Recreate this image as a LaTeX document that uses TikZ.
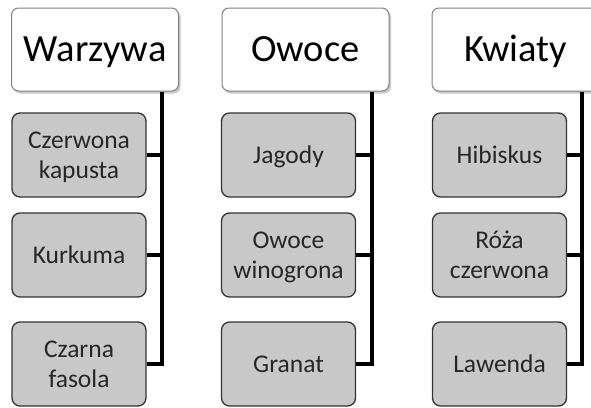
\documentclass[tikz,border=0pt]{standalone}
\usepackage{fontspec}
\setmainfont{Carlito}
\usetikzlibrary{shadows}
\definecolor{childfill}{HTML}{C8C8C8}
\definecolor{childdraw}{HTML}{333333}
\definecolor{hdrdraw}{HTML}{808080}
\newcommand{\capstrut}{\rule{0pt}{0.644em}}
\tikzset{
  hdr/.style={draw=hdrdraw, line width=1pt, fill=white, rounded corners=7pt,
    minimum width=167pt, minimum height=83pt, inner sep=0pt,
    text height=24.8pt, text depth=0pt,
    font=\fontsize{38.5}{40}\selectfont,
    drop shadow={shadow xshift=2pt, shadow yshift=-2.5pt, opacity=0.35, fill=black!60}},
  child/.style={draw=childdraw, line width=1.3pt, fill=childfill, rounded corners=8pt,
    minimum width=134pt, minimum height=84pt, inner sep=0pt, align=center,
    text depth=0pt,
    font=\fontsize{25.5}{30}\selectfont, text=black!85},
  conn/.style={line width=4.5pt, draw=black}
}
\begin{document}
\begin{tikzpicture}[x=1pt,y=-1pt]
\useasboundingbox[fill=white] (0,0) rectangle (591,407);
% column 1
\node[hdr] (h1) at (95,49.5) {Warzywa};
\node[child] (c11) at (79,155) {\capstrut Czerwona\\kapusta};
\node[child] (c12) at (79,255) {\capstrut Kurkuma};
\node[child] (c13) at (79,364) {\capstrut Czarna\\fasola};
\coordinate (l1) at (162,0);
% column 2
\node[hdr] (h2) at (305.5,49.5) {Owoce};
\node[child] (c21) at (288.5,155) {\capstrut Jagody};
\node[child] (c22) at (288.5,255) {\capstrut Owoce\\winogrona};
\node[child] (c23) at (288.5,364) {\capstrut Granat};
\coordinate (l2) at (372,0);
% column 3
\node[hdr] (h3) at (515.5,49.5) {Kwiaty};
\node[child] (c31) at (499.5,155) {\capstrut Hibiskus};
\node[child] (c32) at (499.5,255) {\capstrut Róża\\czerwona};
\node[child] (c33) at (499.5,364) {\capstrut Lawenda};
\coordinate (l3) at (582,0);
% connectors
\foreach \i in {1,2,3}{
  \draw[conn] (h\i.south -| l\i) |- (c\i3.east);
  \draw[conn] (c\i1.east) -- (c\i1.east -| l\i);
  \draw[conn] (c\i2.east) -- (c\i2.east -| l\i);
}
\end{tikzpicture}
\end{document}
